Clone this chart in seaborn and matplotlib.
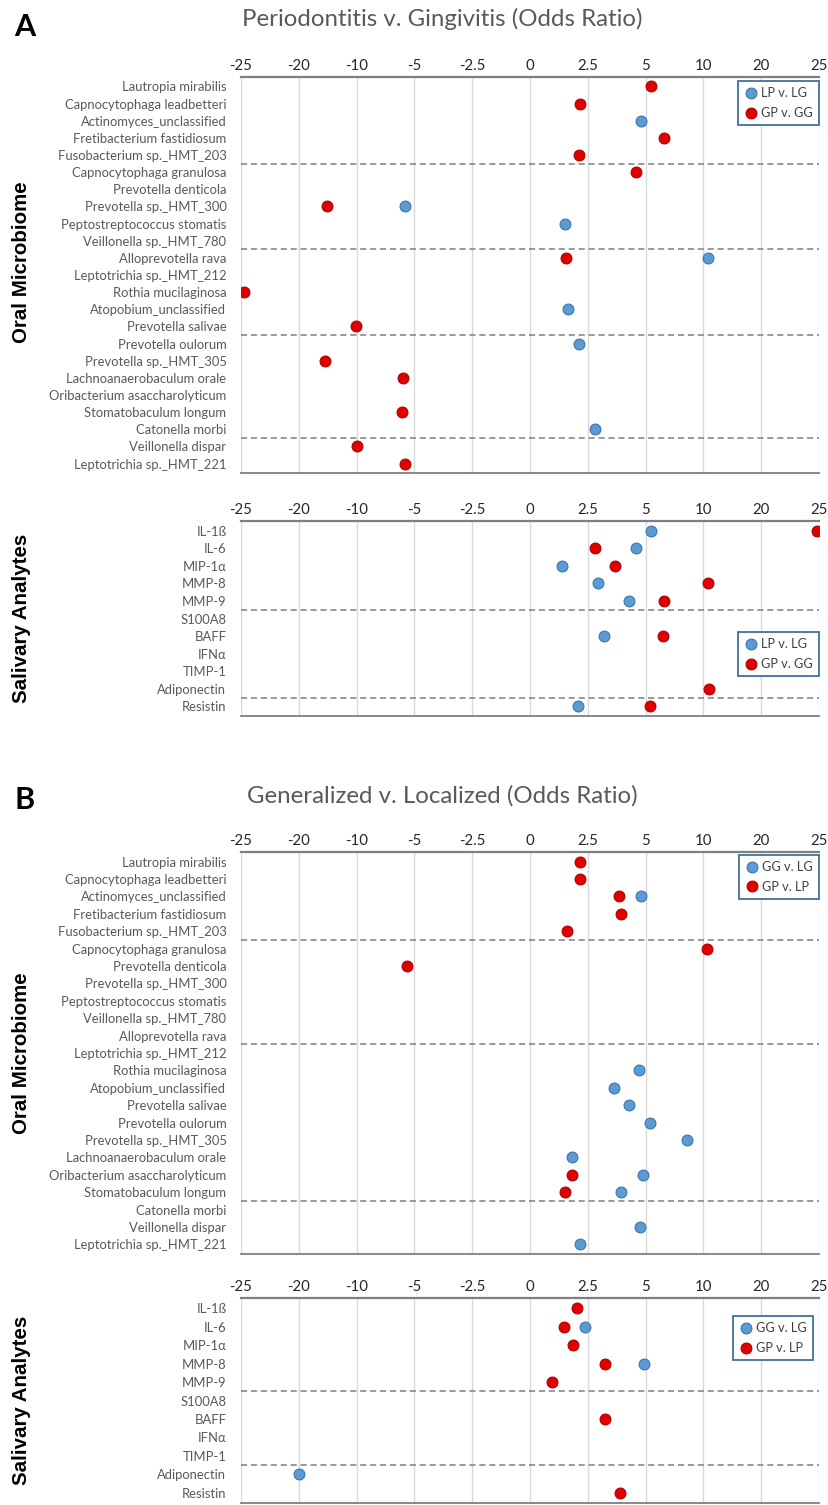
import numpy as np
import pandas as pd
import matplotlib
matplotlib.use("Agg")
import matplotlib.pyplot as plt
from matplotlib.lines import Line2D
import seaborn as sns

# ---------------- data ----------------
oral_taxa = [
    "Lautropia mirabilis", "Capnocytophaga leadbetteri", "Actinomyces_unclassified",
    "Fretibacterium fastidiosum", "Fusobacterium sp._HMT_203", "Capnocytophaga granulosa",
    "Prevotella denticola", "Prevotella sp._HMT_300", "Peptostreptococcus stomatis",
    "Veillonella sp._HMT_780", "Alloprevotella rava", "Leptotrichia sp._HMT_212",
    "Rothia mucilaginosa", "Atopobium_unclassified", "Prevotella salivae",
    "Prevotella oulorum", "Prevotella sp._HMT_305", "Lachnoanaerobaculum orale",
    "Oribacterium asaccharolyticum", "Stomatobaculum longum", "Catonella morbi",
    "Veillonella dispar", "Leptotrichia sp._HMT_221",
]
analytes = ["IL-1ß", "IL-6", "MIP-1α", "MMP-8", "MMP-9", "S100A8", "BAFF",
            "IFNα", "TIMP-1", "Adiponectin", "Resistin"]

nan = np.nan
# Panel A: Periodontitis v. Gingivitis
a_oral_lp_lg = [nan, nan, 4.81, nan, nan, nan, nan, -5.8, 1.5, nan, 10.8, nan,
                nan, 1.65, nan, 2.12, nan, nan, nan, nan, 2.8, nan, nan]
a_oral_gp_gg = [5.5, 2.15, nan, 6.55, 2.12, 4.6, nan, -15.2, nan, nan, 1.55, nan,
                -24.7, nan, -10.1, nan, -15.5, -6.0, nan, -6.05, nan, -10.0, -5.8]
a_sal_lp_lg = [5.45, 4.6, 1.38, 2.92, 4.3, nan, 3.22, nan, nan, nan, 2.07]
a_sal_gp_gg = [24.8, 2.82, 3.67, 10.8, 6.55, nan, 6.5, nan, nan, 11.0, 5.4]

# Panel B: Generalized v. Localized
b_oral_gg_lg = [nan, nan, 4.81, nan, nan, nan, nan, nan, nan, nan, nan, nan,
                4.72, 3.65, 4.3, 5.4, 8.6, 1.82, 4.88, 3.95, nan, 4.75, 2.15]
b_oral_gp_lp = [2.15, 2.15, 3.87, 3.92, 1.62, 10.6, -5.65, nan, nan, nan, nan, nan,
                nan, nan, nan, nan, nan, nan, 1.82, 1.5, nan, nan, nan]
b_sal_gg_lg = [nan, 2.37, nan, 4.93, nan, nan, nan, nan, nan, -19.9, nan]
b_sal_gp_lp = [2.05, 1.45, 1.88, 3.25, 0.97, nan, 3.25, nan, nan, nan, 3.9]

tick_vals = [-25, -20, -10, -5, -2.5, 0, 2.5, 5, 10, 20, 25]
tick_labels = ["-25", "-20", "-10", "-5", "-2.5", "0", "2.5", "5", "10", "20", "25"]

BLUE, BLUE_EDGE = "#5b9bd5", "#3f75a8"
RED, RED_EDGE = "#e00000", "#b00000"
TXT = "#595959"

# ---------------- style ----------------
sns.set_theme(style="white")
plt.rcParams["font.family"] = ["Lato", "DejaVu Sans"]

fig = plt.figure(figsize=(8.29, 15.05), dpi=100)
W, H = 829.0, 1505.0


def axes_px(left, top, right, bottom):
    return fig.add_axes([left / W, 1 - bottom / H, (right - left) / W, (bottom - top) / H])


pos = np.arange(len(tick_vals), dtype=float)


def fwd(x):
    return np.interp(x, tick_vals, pos)


def inv(u):
    return np.interp(u, pos, tick_vals)


def panel(ax, cats, s1, s2, names, dashes, leg_anchor):
    n = len(cats)
    df1 = pd.DataFrame({"label": cats, "value": s1})
    df2 = pd.DataFrame({"label": cats, "value": s2})
    sns.stripplot(data=df1, x="value", y="label", order=cats, orient="h", jitter=False,
                  color=BLUE, edgecolor=BLUE_EDGE, linewidth=0.8, size=7.8, ax=ax, zorder=4)
    sns.stripplot(data=df2, x="value", y="label", order=cats, orient="h", jitter=False,
                  color=RED, edgecolor=RED_EDGE, linewidth=0.8, size=7.8, ax=ax, zorder=5)
    ax.set_xscale("function", functions=(fwd, inv))
    ax.set_xlim(-25, 25)
    ax.set_xticks(tick_vals)
    ax.set_xticklabels(tick_labels)
    ax.xaxis.tick_top()
    ax.tick_params(axis="x", length=0, pad=3.0, labelsize=10.8, labelcolor="#262626")
    ax.tick_params(axis="y", length=0, pad=10.5, labelsize=9.35, labelcolor=TXT)
    ax.set_ylim(n - 1 + 0.55, -0.55)
    ax.set_xlabel("")
    ax.set_ylabel("")
    ax.grid(axis="x", color="#d9d9d9", lw=1.0)
    ax.grid(axis="y", visible=False)
    ax.set_axisbelow(True)
    for s in ("left", "right"):
        ax.spines[s].set_visible(False)
    ax.spines["top"].set_color("#7f7f7f")
    ax.spines["top"].set_linewidth(1.6)
    ax.spines["bottom"].set_color("#7f7f7f")
    ax.spines["bottom"].set_linewidth(1.3)
    for d in dashes:
        ax.axhline(d, color="#7f7f7f", lw=1.1, ls=(0, (4, 2.5)), zorder=2)
    handles = [
        Line2D([], [], ls="none", marker="o", markersize=7.8, markerfacecolor=BLUE,
               markeredgecolor=BLUE_EDGE, markeredgewidth=0.8, label=names[0]),
        Line2D([], [], ls="none", marker="o", markersize=7.8, markerfacecolor=RED,
               markeredgecolor=RED_EDGE, markeredgewidth=0.8, label=names[1]),
    ]
    leg = ax.legend(handles=handles, loc="upper right", bbox_to_anchor=leg_anchor,
                    borderaxespad=0, frameon=True, fancybox=False, fontsize=9.2,
                    handlelength=1.0, handletextpad=0.3, labelspacing=0.6,
                    borderpad=0.5, labelcolor="#404040")
    leg.get_frame().set_edgecolor("#41719c")
    leg.get_frame().set_linewidth(1.3)
    leg.get_frame().set_facecolor("white")
    leg.get_frame().set_alpha(1)
    leg.set_zorder(10)


LEFT, RIGHT = 241, 819

ax1 = axes_px(LEFT, 77, RIGHT, 473)
panel(ax1, oral_taxa, a_oral_lp_lg, a_oral_gp_gg, ["LP v. LG", "GP v. GG"],
      [4.5, 9.5, 14.5, 20.5], (1.0, 0.990))

ax2 = axes_px(LEFT, 521, RIGHT, 716)
panel(ax2, analytes, a_sal_lp_lg, a_sal_gp_gg, ["LP v. LG", "GP v. GG"],
      [4.5, 9.5], (1.0, 0.431))

ax3 = axes_px(LEFT, 852, RIGHT, 1254)
panel(ax3, oral_taxa, b_oral_gg_lg, b_oral_gp_lp, ["GG v. LG", "GP v. LP"],
      [4.5, 10.5, 19.5], (1.0, 0.993))

ax4 = axes_px(LEFT, 1298, RIGHT, 1503)
panel(ax4, analytes, b_sal_gg_lg, b_sal_gp_lp, ["GG v. LG", "GP v. LP"],
      [4.5, 8.5], (0.99, 0.912))

# ---------------- figure texts ----------------
fig.text(25 / W, 1 - 27 / H, "A", ha="center", va="center", fontsize=22,
         fontweight="bold", color="black")
fig.text(442 / W, 1 - 19 / H, "Periodontitis v. Gingivitis (Odds Ratio)", ha="center",
         va="center", fontsize=17.3, color=TXT)
fig.text(25 / W, 1 - 800 / H, "B", ha="center", va="center", fontsize=22,
         fontweight="bold", color="black")
fig.text(442 / W, 1 - 796 / H, "Generalized v. Localized (Odds Ratio)", ha="center",
         va="center", fontsize=17.3, color=TXT)

for yc, txt in [(262, "Oral Microbiome"), (618, "Salivary Analytes"),
                (1053, "Oral Microbiome"), (1400, "Salivary Analytes")]:
    fig.text(22 / W, 1 - yc / H, txt, rotation=90, ha="center", va="center",
             fontsize=14.8, fontweight="bold", color="black",
             family=["Liberation Sans", "DejaVu Sans"])

fig.savefig("out.png", dpi=100)
